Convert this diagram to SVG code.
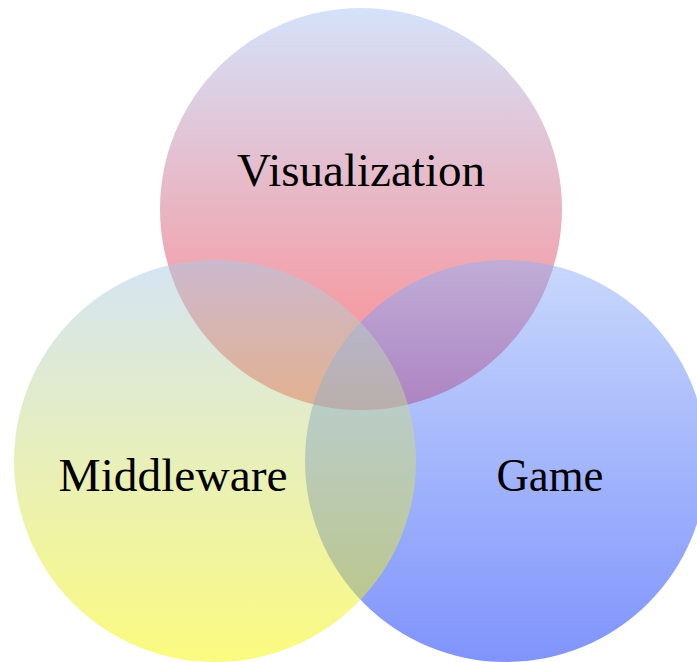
<svg xmlns="http://www.w3.org/2000/svg" width="697" height="662" viewBox="0 0 697 662">
<defs>
<linearGradient id="gTop" x1="0" y1="0" x2="0" y2="1">
<stop offset="0" stop-color="#a9c5f5"/>
<stop offset="1" stop-color="#ff1016"/>
</linearGradient>
<linearGradient id="gLeft" x1="0" y1="0" x2="0" y2="1">
<stop offset="0" stop-color="#a9c9e9"/>
<stop offset="1" stop-color="#f8f600"/>
</linearGradient>
<linearGradient id="gRight" x1="0" y1="0" x2="0" y2="1">
<stop offset="0" stop-color="#91b1f9"/>
<stop offset="1" stop-color="#0129f9"/>
</linearGradient>
<style>
.c{fill-opacity:0.5;stroke:none}
.t{font-family:"Liberation Serif","Times New Roman",serif;font-size:46px;fill:#000;text-anchor:middle}
</style>
</defs>
<g id="visualization">
<circle class="c" cx="361" cy="209" r="201" fill="url(#gTop)"/>
</g>
<g id="game">
<circle class="c" cx="506" cy="461" r="201" fill="url(#gRight)"/>
</g>
<g id="middleware">
<circle class="c" cx="215" cy="461" r="201" fill="url(#gLeft)"/>
</g>
<g id="labels">
<text class="t" x="361" y="186" textLength="248" lengthAdjust="spacingAndGlyphs">Visualization</text>
<text class="t" x="173" y="491" textLength="229" lengthAdjust="spacingAndGlyphs">Middleware</text>
<text class="t" x="550" y="491" textLength="107" lengthAdjust="spacingAndGlyphs">Game</text>
</g>
<g id="connectors"/>
</svg>
